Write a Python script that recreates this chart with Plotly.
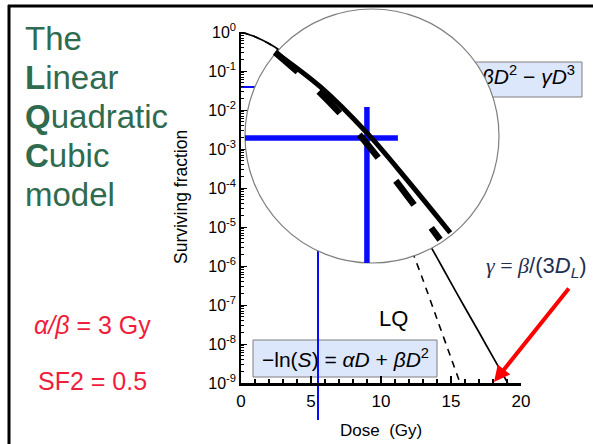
import plotly.graph_objects as go

# ---------------- data ----------------
# Main panel: LQC model (solid) and LQ model (dashed)
dose_lqc = [0, 1, 2, 3, 4, 5, 6, 7, 8, 9, 10, 11, 12, 13, 14, 15, 16, 17, 18, 19.05]
sf_lqc = [1.0, 0.759, 0.505, 0.296, 0.155, 0.0723, 0.0304, 0.0116, 4.06e-3, 1.30e-3,
          3.88e-4, 1.08e-4, 2.82e-5, 6.95e-6, 1.64e-6, 3.7e-7, 8.5e-8, 2.0e-8, 4.6e-9, 1.0e-9]
dose_lq = [0, 1, 2, 3, 4, 5, 6, 7, 8, 9, 10, 11, 12, 12.4, 13, 14, 15, 15.65]
sf_lq = [1.0, 0.758, 0.5, 0.287, 0.1436, 0.0625, 0.0237, 7.82e-3, 2.25e-3, 5.62e-4,
         1.22e-4, 2.32e-5, 3.83e-6, 1.65e-6, 4.4e-7, 4.4e-8, 4.4e-9, 1.0e-9]

mark_dose = 5.5
mark_sf = 0.039

# Magnified (lens) view: same curves, magnified
inset_dose_lqc = [3.69, 4.58, 5.50, 6.29, 7.14]
inset_sf_lqc = [0.157, 0.0897, 0.0424, 0.0198, 0.0084]
inset_dose_lq = [3.69, 4.48, 5.32, 6.01, 6.68, 6.94]
inset_sf_lq = [0.157, 0.0879, 0.0424, 0.0208, 0.0100, 0.0075]
inset_cross_h_dose = [3.1, 6.11]
inset_cross_v_sf = [0.0646, 0.00514]
inset_xrange = [3.1, 8.1]
inset_yrange_log = [-2.289, -0.5]

# Axis ticks
x_ticks = [0, 5, 10, 15, 20]
y_tickvals = [10.0 ** (-k) for k in range(0, 10)]
y_ticktext = ["10<sup>%s</sup>" % ("0" if k == 0 else "-%d" % k) for k in range(0, 10)]

# ---------------- layout helpers ----------------
W, H = 593, 444
def px(x):
    return x / W
def py(y):
    return 1 - y / H

FONT = "Liberation Sans, Arial, sans-serif"
BLUE = "#0a0aff"
GREEN = "#2e6b4f"
RED = "#f01e3c"

fig = go.Figure()

# main panel traces
fig.add_trace(go.Scatter(x=[0, mark_dose], y=[mark_sf, mark_sf], mode="lines",
                         line=dict(color=BLUE, width=2), xaxis="x", yaxis="y", hoverinfo="skip"))
fig.add_trace(go.Scatter(x=[mark_dose, mark_dose], y=[mark_sf, 1e-9], mode="lines",
                         line=dict(color=BLUE, width=2), xaxis="x", yaxis="y", hoverinfo="skip"))
fig.add_trace(go.Scatter(x=dose_lq, y=sf_lq, mode="lines",
                         line=dict(color="black", width=1.6, dash="7px,6px", shape="spline", smoothing=0.6),
                         xaxis="x", yaxis="y", hoverinfo="skip"))
fig.add_trace(go.Scatter(x=dose_lqc, y=sf_lqc, mode="lines",
                         line=dict(color="black", width=1.7, shape="spline", smoothing=0.6),
                         xaxis="x", yaxis="y", hoverinfo="skip"))
# partially hidden LQC formula (covered by the lens)
fig.add_trace(go.Scatter(x=[7.8], y=[10 ** -1.19], mode="text",
                         text=["\u2212ln(<i>S</i>) = <i>\u03b1D</i> + <i>\u03b2D</i><sup>2</sup> \u2212 <i>\u03b3D</i><sup>3</sup>"],
                         textposition="middle right", cliponaxis=False,
                         textfont=dict(family=FONT, size=21, color="black"),
                         xaxis="x", yaxis="y", hoverinfo="skip"))

# lens (inset) traces
lens_cx = (inset_xrange[0] + inset_xrange[1]) / 2
lens_cy = 10 ** ((inset_yrange_log[0] + inset_yrange_log[1]) / 2)
fig.add_trace(go.Scatter(x=[lens_cx], y=[lens_cy], mode="markers", cliponaxis=False,
                         marker=dict(size=254, color="white", line=dict(color="#7f7f7f", width=1.2)),
                         xaxis="x2", yaxis="y2", hoverinfo="skip"))
fig.add_trace(go.Scatter(x=inset_cross_h_dose, y=[mark_sf, mark_sf], mode="lines",
                         line=dict(color=BLUE, width=5.5), xaxis="x2", yaxis="y2", hoverinfo="skip"))
fig.add_trace(go.Scatter(x=[mark_dose, mark_dose], y=inset_cross_v_sf, mode="lines",
                         line=dict(color=BLUE, width=5.5), xaxis="x2", yaxis="y2", hoverinfo="skip"))
fig.add_trace(go.Scatter(x=inset_dose_lq, y=inset_sf_lq, mode="lines",
                         line=dict(color="black", width=6.5, dash="30px,29px", shape="spline"),
                         xaxis="x2", yaxis="y2", hoverinfo="skip"))
fig.add_trace(go.Scatter(x=inset_dose_lqc, y=inset_sf_lqc, mode="lines",
                         line=dict(color="black", width=5, shape="spline"),
                         xaxis="x2", yaxis="y2", hoverinfo="skip"))

shapes = [
    # formula boxes (below plots)
    dict(type="rect", xref="paper", yref="paper", x0=px(349), x1=px(582), y0=py(97), y1=py(62),
         fillcolor="#dde7fb", line=dict(color="#7f7f7f", width=1), layer="below"),
    dict(type="rect", xref="paper", yref="paper", x0=px(253), x1=px(437), y0=py(377), y1=py(340),
         fillcolor="#dde7fb", line=dict(color="#7f7f7f", width=1), layer="below"),
    # extension of the blue dose marker below the axis
    dict(type="line", xref="x", yref="paper", x0=mark_dose, x1=mark_dose, y0=py(420), y1=py(383),
         line=dict(color=BLUE, width=2), layer="below"),
    # slide frame
    dict(type="line", xref="paper", yref="paper", x0=px(8), x1=1.0, y0=py(6), y1=py(6),
         line=dict(color="black", width=3)),
    dict(type="line", xref="paper", yref="paper", x0=px(9), x1=px(9), y0=py(5), y1=0,
         line=dict(color="black", width=3)),
]

ann = []
title_lines = [("The", 38), ("<b>L</b>inear", 78), ("<b>Q</b>uadratic", 117),
               ("<b>C</b>ubic", 156), ("model", 194)]
for t, yy in title_lines:
    ann.append(dict(text=t, x=px(23), y=py(yy), xref="paper", yref="paper", xanchor="left",
                    yanchor="middle", showarrow=False, font=dict(family=FONT, size=33, color=GREEN)))
ann += [
    dict(text="<i>\u03b1/\u03b2</i> = 3 Gy", x=px(32), y=py(325), xref="paper", yref="paper",
         xanchor="left", yanchor="middle", showarrow=False, font=dict(family=FONT, size=25, color=RED)),
    dict(text="SF2 = 0.5", x=px(36), y=py(381), xref="paper", yref="paper",
         xanchor="left", yanchor="middle", showarrow=False, font=dict(family=FONT, size=25, color=RED)),
    dict(text="LQ", x=px(393), y=py(318), xref="paper", yref="paper", showarrow=False,
         xanchor="center", yanchor="middle", font=dict(family=FONT, size=22, color="black")),
    dict(text="\u2212ln(<i>S</i>) = <i>\u03b1D</i> + <i>\u03b2D</i><sup>2</sup>", x=px(345), y=py(358),
         xref="paper", yref="paper", showarrow=False, xanchor="center", yanchor="middle",
         font=dict(family=FONT, size=21, color="black")),
    dict(text="<span style='font-family:Liberation Serif'><i>\u03b3</i> = <i>\u03b2</i></span>/(3<i>D</i><sub><i>L</i></sub>)",
         x=px(484), y=py(267), xref="paper", yref="paper", xanchor="left", yanchor="middle",
         showarrow=False, font=dict(family=FONT, size=22, color="#1f2f4f")),
    dict(text="", x=px(494), y=py(382), xref="paper", yref="paper", showarrow=True,
         ax=76, ay=-95, arrowcolor="#ff0000", arrowwidth=4, arrowhead=2, arrowsize=0.8),
    dict(text="Surviving fraction", x=px(181), y=py(197), xref="paper", yref="paper",
         textangle=-90, showarrow=False, xanchor="center", yanchor="middle",
         font=dict(family=FONT, size=17.5, color="black")),
    dict(text="Dose\u00a0 (Gy)", x=px(381), y=py(430), xref="paper", yref="paper",
         showarrow=False, xanchor="center", yanchor="middle",
         font=dict(family=FONT, size=17, color="black")),
]

fig.update_layout(
    width=W, height=H, margin=dict(l=0, r=0, t=0, b=0, autoexpand=False),
    paper_bgcolor="white", plot_bgcolor="rgba(0,0,0,0)", showlegend=False,
    shapes=shapes, annotations=ann,
    xaxis=dict(domain=[px(241), px(521)], range=[0, 20], anchor="y", automargin=False,
               tickvals=x_ticks, ticks="inside", ticklen=7, tickwidth=2, tickcolor="black",
               showline=True, linewidth=2.5, linecolor="black", showgrid=False, zeroline=False,
               minor=dict(dtick=1, ticks="inside", ticklen=4, tickwidth=1.5, tickcolor="black", showgrid=False),
               tickfont=dict(family=FONT, size=17, color="black"), ticklabelstandoff=1),
    yaxis=dict(domain=[py(383), py(32)], type="log", range=[-9, 0], anchor="x", automargin=False,
               tickvals=y_tickvals, ticktext=y_ticktext, ticks="inside", ticklen=6, tickwidth=1.2,
               tickcolor="black", showline=True, linewidth=1.5, linecolor="black",
               showgrid=False, zeroline=False,
               minor=dict(dtick="D1", ticks="inside", ticklen=3, tickwidth=1, tickcolor="black", showgrid=False),
               tickfont=dict(family=FONT, size=16, color="black")),
    xaxis2=dict(domain=[px(245), px(499)], range=inset_xrange, anchor="y2", visible=False, automargin=False),
    yaxis2=dict(domain=[py(263), py(9)], type="log", range=inset_yrange_log, anchor="x2", visible=False,
                automargin=False),
)

fig.write_html("out.html", config={"displayModeBar": False},
               post_script="document.body.style.margin='0px';")
